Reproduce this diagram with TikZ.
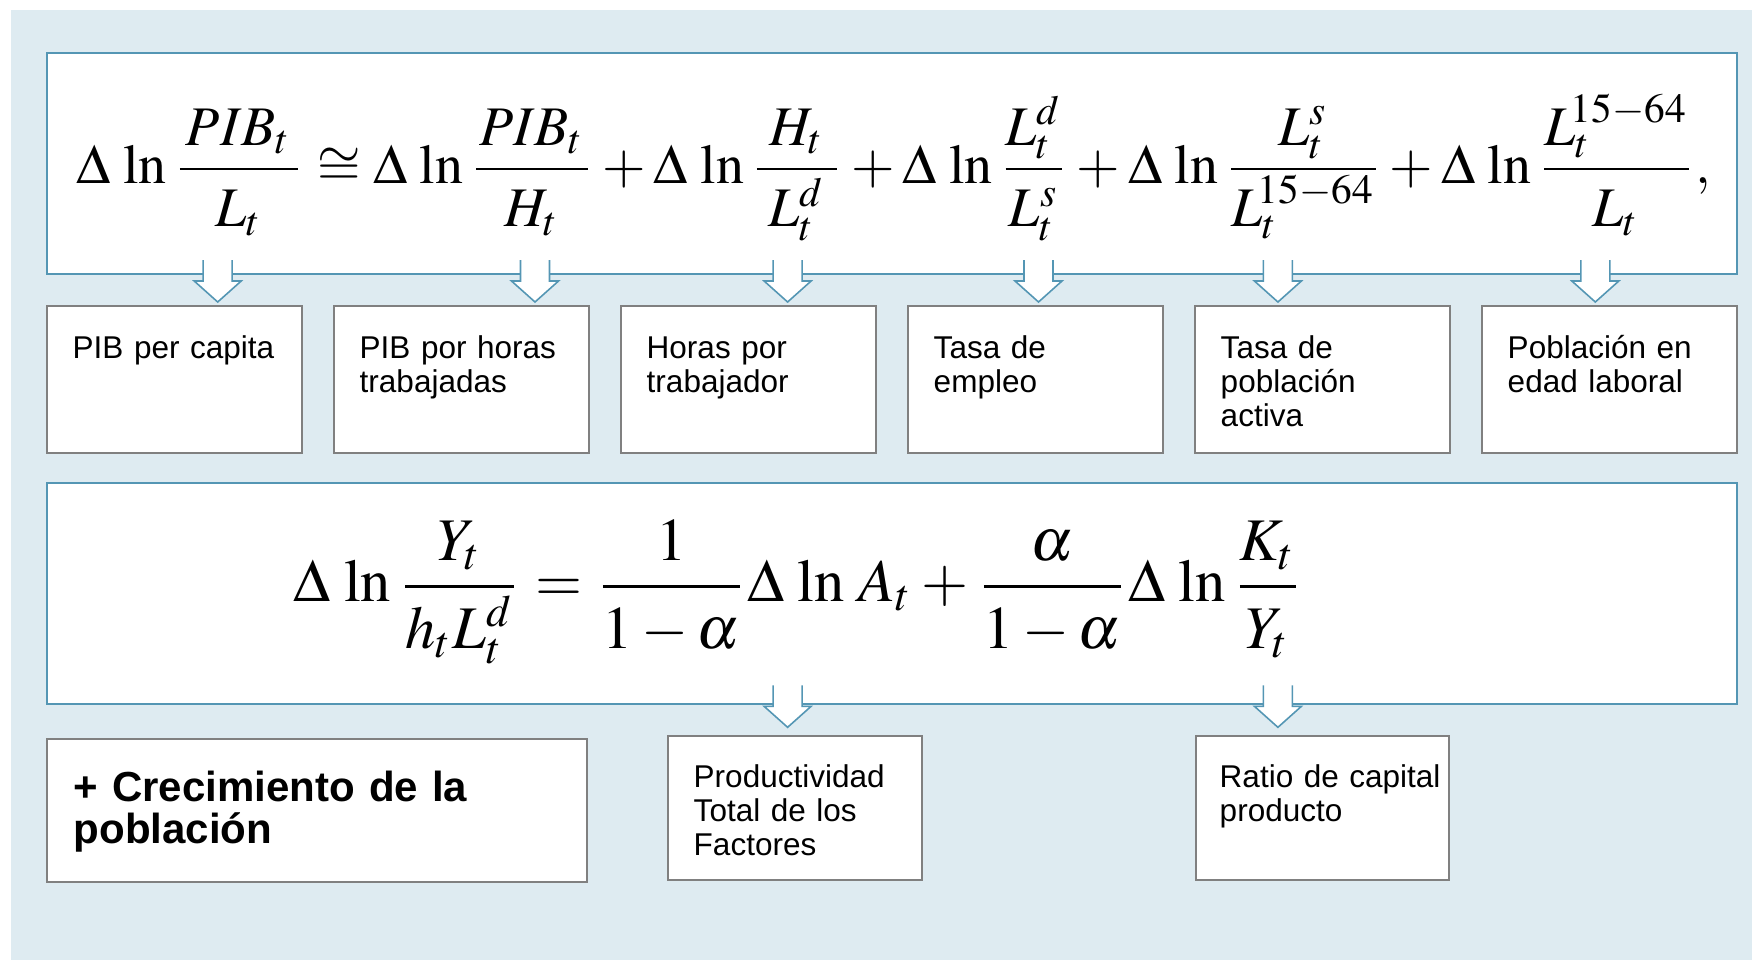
\documentclass[tikz,border=0pt]{standalone}
\usepackage{amsmath}
\usepackage{mathptmx}
\usepackage{fontspec}
\setmainfont{Liberation Serif}
\newfontfamily\arialf{Liberation Sans}
\usepackage{graphicx}
\definecolor{bgblue}{RGB}{222,235,241}
\definecolor{frameblue}{RGB}{84,150,180}
\definecolor{boxgray}{RGB}{128,128,128}
\newcommand{\dnst}{\rule{0pt}{8.9pt}}
\begin{document}
\begin{tikzpicture}[x=0.01cm,y=-0.01cm,
  eqbox/.style={draw=frameblue, line width=0.7pt, fill=white, inner sep=0, outer sep=0, anchor=north west},
  smallbox/.style={draw=boxgray, line width=0.6pt, fill=white, inner sep=0, outer sep=0, anchor=north west},
  boxtext/.style={font=\arialf\fontsize{8.96pt}{9.67pt}\selectfont, text width=2.4cm, align=left, inner sep=0, anchor=base west},
  boldtext/.style={font=\arialf\bfseries\fontsize{11.95pt}{11.84pt}\selectfont, text width=5cm, align=left, inner sep=0, anchor=base west},
  barrow/.style={draw=frameblue, fill=white, line width=0.45pt, line join=miter}
]
\useasboundingbox (0,0) rectangle (1752,960);
\fill[white] (0,0) rectangle (1752,960);
\fill[bgblue] (11,10) rectangle (1752,960);

% formula boxes
\node[eqbox, minimum width=16.89cm, minimum height=2.21cm] (E1) at (47,53) {};
\node[eqbox, minimum width=16.89cm, minimum height=2.21cm] (E2) at (47,483) {};

\node[inner sep=0, anchor=base west] (f1) at (76,183) {\resizebox{16.33cm}{!}{$\displaystyle
  \Delta\,\ln\frac{\mkern2mu PIB_t\mkern2mu}{\dnst L_t}
  \cong\Delta\,\ln\frac{\mkern1mu PIB_t\mkern1mu}{\dnst H_t}
  +\Delta\,\ln\frac{\mkern4mu H_t\mkern4mu}{\dnst \smash[t]{L_t^d}}
  +\Delta\,\ln\frac{L_t^d}{\dnst \smash[t]{L_t^s}}
  +\Delta\,\ln\frac{L_t^s}{\dnst \smash[t]{L_t^{\!15-64}}}
  +\Delta\,\ln\frac{L_t^{\!15-64}}{\dnst L_t},$}};
\node[inner sep=0, anchor=base west] (f2) at (293,601.7) {\resizebox{10.09cm}{!}{$\displaystyle
  \Delta\,\ln\frac{Y_t}{\dnst h_t\smash[t]{L_t^d}}
  =\frac{1}{\dnst 1-\alpha}\Delta\,\ln\,A_t
  +\frac{\alpha}{\dnst 1-\alpha}\Delta\,\ln\frac{K_t}{\dnst Y_t}$}};

% arrow tips
\coordinate (t1) at (217.7,302);
\coordinate (t2) at (535,302);
\coordinate (t3) at (787.6,302);
\coordinate (t4) at (1038.5,302);
\coordinate (t5) at (1277.9,302);
\coordinate (t6) at (1595.3,302);
\coordinate (t7) at (787.6,727.3);
\coordinate (t8) at (1277.9,727.3);
\foreach \t in {t1,t2,t3,t4,t5,t6,t7,t8}{
  \draw[barrow] (\t) ++(-14.5,-42) -- ++(0,21) -- ++(-9,0) -- (\t) -- ++(23.5,-21) -- ++(-9,0) -- ++(0,-21);
}

% row 1 boxes
\node[smallbox, minimum width=2.55cm, minimum height=1.473cm] (s1) at (47,305.7) {};
\node[smallbox, minimum width=2.55cm, minimum height=1.473cm] (s2) at (334,305.7) {};
\node[smallbox, minimum width=2.55cm, minimum height=1.473cm] (s3) at (621,305.7) {};
\node[smallbox, minimum width=2.55cm, minimum height=1.473cm] (s4) at (908,305.7) {};
\node[smallbox, minimum width=2.55cm, minimum height=1.473cm] (s5) at (1195,305.7) {};
\node[smallbox, minimum width=2.55cm, minimum height=1.473cm] (s6) at (1482,305.7) {};

\node[boxtext] (x1) at ([xshift=0.25cm,yshift=-0.526cm]s1.north west) {PIB per capita};
\node[boxtext] (x2) at ([xshift=0.25cm,yshift=-0.526cm]s2.north west) {PIB por horas\\trabajadas};
\node[boxtext] (x3) at ([xshift=0.25cm,yshift=-0.526cm]s3.north west) {Horas por\\trabajador};
\node[boxtext] (x4) at ([xshift=0.25cm,yshift=-0.526cm]s4.north west) {Tasa de\\empleo};
\node[boxtext] (x5) at ([xshift=0.25cm,yshift=-0.526cm]s5.north west) {Tasa de\\población\\activa};
\node[boxtext] (x6) at ([xshift=0.25cm,yshift=-0.526cm]s6.north west) {Población en\\edad laboral};

% bottom boxes
\node[smallbox, minimum width=5.40cm, minimum height=1.43cm] (b1) at (47,739) {};
\node[smallbox, minimum width=2.54cm, minimum height=1.44cm] (b2) at (668,736) {};
\node[smallbox, minimum width=2.53cm, minimum height=1.44cm] (b3) at (1196,736) {};

\node[boldtext] (y1) at ([xshift=0.26cm,yshift=-0.627cm]b1.north west) {+ Crecimiento de la\\población};
\node[boxtext] (y2) at ([xshift=0.25cm,yshift=-0.513cm]b2.north west) {Productividad\\Total de los\\Factores};
\node[boxtext] (y3) at ([xshift=0.23cm,yshift=-0.513cm]b3.north west) {Ratio de capital\\producto};
\end{tikzpicture}
\end{document}
